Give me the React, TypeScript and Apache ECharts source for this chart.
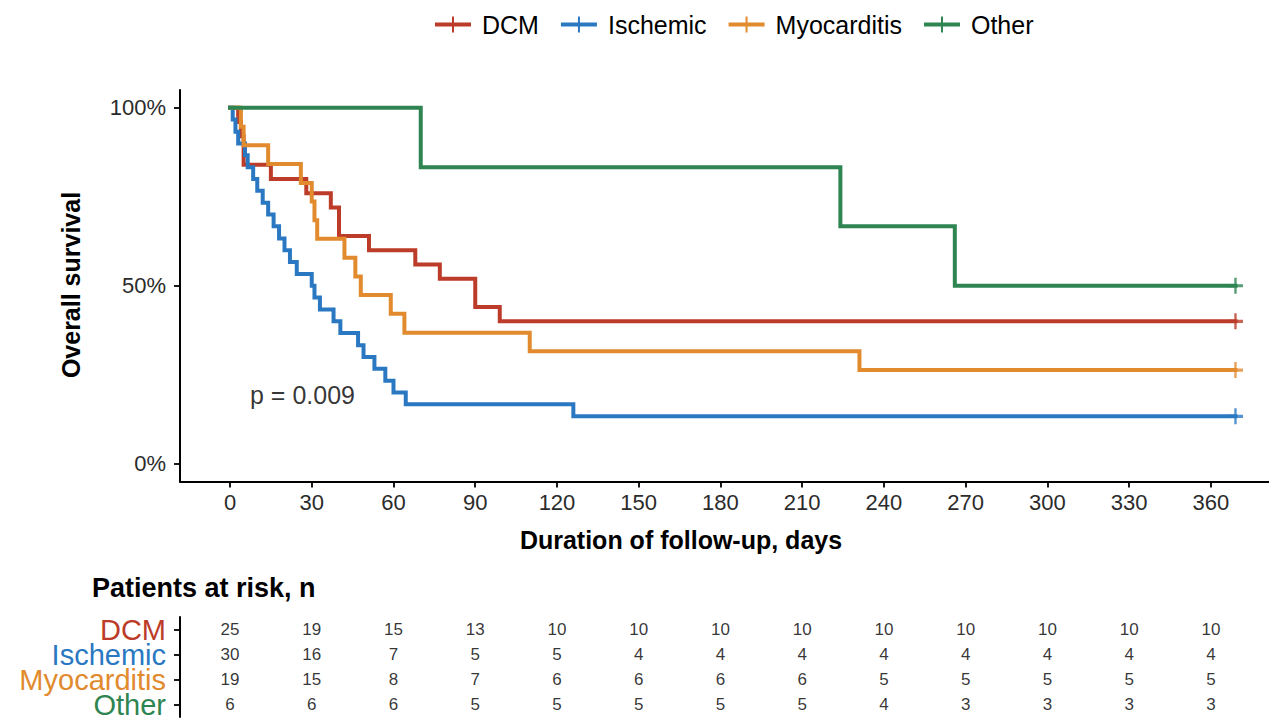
import React, { useEffect, useRef } from "react";
import * as echarts from "echarts";

// ---- data ----
const groups = ["DCM", "Ischemic", "Myocarditis", "Other"];
const groupColors = ["#BC3C29", "#2A78C2", "#E18A2E", "#2E8551"];

const dcmTimes = [0, 3, 4, 5, 15, 28, 37, 40, 51, 68, 77, 90, 99, 369];
const dcmSurv = [100, 96, 92, 84, 80, 76, 72, 64, 60, 56, 52, 44, 40, 40];

const ischTimes = [0, 1, 2, 3, 5.5, 6.5, 8.5, 10, 12, 14, 16, 18, 20, 22, 24.5, 30, 31, 33, 38, 40.5, 47, 49, 53, 57, 60, 64.5, 126, 369];
const ischSurv = [100, 96.7, 93.3, 90, 86.7, 83.3, 80, 76.7, 73.3, 70, 66.7, 63.3, 60, 56.7, 53.3, 50, 46.7, 43.3, 40, 36.7, 33.3, 30, 26.7, 23.3, 20, 16.7, 13.3, 13.3];

const myoTimes = [0, 4, 5, 14, 26, 30, 31, 32, 42, 46, 48, 59, 64, 110, 231, 369];
const myoSurv = [100, 94.7, 89.5, 84.2, 78.9, 73.7, 68.4, 63.2, 57.9, 52.6, 47.4, 42.1, 36.8, 31.6, 26.3, 26.3];

const otherTimes = [0, 70, 224, 266, 369];
const otherSurv = [100, 83.3, 66.7, 50, 50];

const dcmCensor = [369];
const ischCensor = [369];
const myoCensor = [369];
const otherCensor = [369];

const xTicks = [0, 30, 60, 90, 120, 150, 180, 210, 240, 270, 300, 330, 360];
const yTicks = [0, 50, 100];

const riskTimes = [0, 30, 60, 90, 120, 150, 180, 210, 240, 270, 300, 330, 360];
const riskDCM = [25, 19, 15, 13, 10, 10, 10, 10, 10, 10, 10, 10, 10];
const riskIsch = [30, 16, 7, 5, 5, 4, 4, 4, 4, 4, 4, 4, 4];
const riskMyo = [19, 15, 8, 7, 6, 6, 6, 6, 5, 5, 5, 5, 5];
const riskOther = [6, 6, 6, 5, 5, 5, 5, 5, 4, 3, 3, 3, 3];

const pValueText = "p = 0.009";
const pValuePos = [26.6, 19.2];

// ---- layout ----
const X_MIN = -18.35;
const X_MAX = 381.3;
const FONT = "'Liberation Sans', Arial, Helvetica, sans-serif";

const PLUS = "path://M0,4 L10,4 L10,6 L0,6 Z M4.2,0 L5.8,0 L5.8,10 L4.2,10 Z";
const LEGEND_ICON = "path://M0,6 L36,6 L36,10 L0,10 Z M17,0 L19,0 L19,16 L17,16 Z";

function survAt(times: number[], surv: number[], t: number) {
  let v = surv[0];
  for (let i = 0; i < times.length; i++) if (times[i] <= t) v = surv[i];
  return v;
}

export default function App() {
  const ref = useRef<HTMLDivElement>(null);
  useEffect(() => {
    const chart = echarts.init(ref.current!, null, { renderer: "svg" });
    const km = [
      { t: dcmTimes, s: dcmSurv, c: dcmCensor },
      { t: ischTimes, s: ischSurv, c: ischCensor },
      { t: myoTimes, s: myoSurv, c: myoCensor },
      { t: otherTimes, s: otherSurv, c: otherCensor },
    ];
    const risks = [riskDCM, riskIsch, riskMyo, riskOther];

    const series: any[] = [];
    km.forEach((g, i) => {
      series.push({
        type: "line",
        name: groups[i],
        xAxisIndex: 0,
        yAxisIndex: 0,
        step: "end",
        data: g.t.map((t, j) => [t, g.s[j]]),
        showSymbol: false,
        symbol: "none",
        silent: true,
        z: 2 + i,
        lineStyle: { width: 4, color: groupColors[i], cap: "square", join: "miter" },
        itemStyle: { color: groupColors[i] },
      });
    });
    km.forEach((g, i) => {
      series.push({
        type: "scatter",
        name: groups[i],
        xAxisIndex: 0,
        yAxisIndex: 0,
        data: g.c.map((t) => [t, survAt(g.t, g.s, t)]),
        symbol: PLUS,
        symbolSize: [15, 16],
        silent: true,
        z: 10 + i,
        itemStyle: { color: groupColors[i] },
      });
    });
    series.push({
      type: "scatter",
      name: "pvalue",
      xAxisIndex: 0,
      yAxisIndex: 0,
      data: [pValuePos],
      symbolSize: 1,
      silent: true,
      itemStyle: { color: "rgba(0,0,0,0)" },
      label: {
        show: true,
        position: "inside",
        formatter: () => pValueText,
        color: "#000",
        fontSize: 25,
        fontFamily: FONT,
      },
    });
    risks.forEach((r, i) => {
      series.push({
        type: "scatter",
        name: "risk-" + groups[i],
        xAxisIndex: 1,
        yAxisIndex: 1,
        data: riskTimes.map((t, j) => [t, groups[i], r[j]]),
        symbolSize: 1,
        silent: true,
        itemStyle: { color: "rgba(0,0,0,0)" },
        label: {
          show: true,
          position: "inside",
          formatter: (p: any) => String(p.value[2]),
          color: "#000",
          fontSize: 17,
          fontFamily: FONT,
        },
      });
    });

    const rich: any = {};
    groups.forEach((g, i) => {
      rich[g] = { color: groupColors[i], fontSize: 29, lineHeight: 25, fontFamily: FONT };
    });

    const option: any = {
      animation: false,
      backgroundColor: "#fff",
      textStyle: { fontFamily: FONT },
      legend: {
        data: groups.map((g) => ({ name: g, icon: LEGEND_ICON })),
        left: 430,
        top: 7,
        itemWidth: 36,
        itemHeight: 16,
        itemGap: 22,
        selectedMode: false,
        textStyle: { fontSize: 25, color: "#000", fontFamily: FONT, padding: [0, 0, 0, 6] },
      },
      grid: [
        { left: 180, right: 0, top: 90, bottom: 237.5 },
        { left: 180, right: 0, top: 617, height: 100 },
      ],
      xAxis: [
        {
          type: "value",
          gridIndex: 0,
          min: X_MIN,
          max: X_MAX,
          splitLine: { show: false },
          axisLine: { show: true, onZero: false, lineStyle: { color: "#000", width: 2 } },
          axisTick: { show: true, customValues: xTicks, length: 6, lineStyle: { color: "#000", width: 1.8 } },
          axisLabel: { customValues: xTicks, fontSize: 22, color: "#2b2b2b", margin: 10, fontFamily: FONT },
        },
        {
          type: "value",
          gridIndex: 1,
          min: X_MIN,
          max: X_MAX,
          show: false,
          splitLine: { show: false },
        },
      ],
      yAxis: [
        {
          type: "value",
          gridIndex: 0,
          min: -5,
          max: 105,
          splitLine: { show: false },
          axisLine: { show: true, onZero: false, lineStyle: { color: "#000", width: 2 } },
          axisTick: { show: true, customValues: yTicks, length: 6, lineStyle: { color: "#000", width: 1.8 } },
          axisLabel: {
            customValues: yTicks,
            formatter: (v: number) => v + "%",
            fontSize: 22,
            color: "#2b2b2b",
            margin: 14,
            fontFamily: FONT,
          },
        },
        {
          type: "category",
          gridIndex: 1,
          data: groups,
          inverse: true,
          axisLine: { show: true, onZero: false, lineStyle: { color: "#000", width: 2 } },
          axisTick: { show: true, alignWithLabel: true, interval: 0, length: 6, lineStyle: { color: "#000", width: 1.8 } },
          axisLabel: {
            interval: 0,
            margin: 14,
            formatter: (v: string) => `{${v}|${v}}`,
            rich,
          },
          splitLine: { show: false },
        },
      ],
      graphic: [
        {
          type: "text",
          x: 71,
          y: 285,
          rotation: Math.PI / 2,
          style: {
            text: "Overall survival",
            fontSize: 25,
            fontWeight: "bold",
            fill: "#000",
            align: "center",
            verticalAlign: "middle",
            fontFamily: FONT,
          },
        },
        {
          type: "text",
          x: 681,
          y: 540,
          style: {
            text: "Duration of follow-up, days",
            fontSize: 25,
            fontWeight: "bold",
            fill: "#000",
            align: "center",
            verticalAlign: "middle",
            fontFamily: FONT,
          },
        },
        {
          type: "text",
          x: 92,
          y: 588,
          style: {
            text: "Patients at risk, n",
            fontSize: 27,
            fontWeight: "bold",
            fill: "#000",
            align: "left",
            verticalAlign: "middle",
            fontFamily: FONT,
          },
        },
      ],
      series,
    };
    chart.setOption(option);
    return () => chart.dispose();
  }, []);
  return (
    <div
      ref={ref}
      style={{ position: "absolute", left: 0, top: 0, width: 1269, height: 719, background: "#fff" }}
    />
  );
}
